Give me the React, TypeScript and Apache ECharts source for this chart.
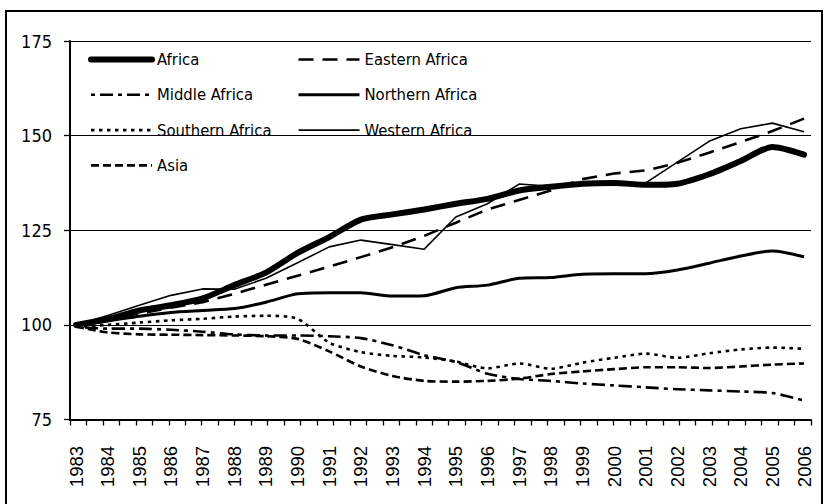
import React, { useEffect, useRef } from "react";
import * as echarts from "echarts";

const years = [1983, 1984, 1985, 1986, 1987, 1988, 1989, 1990, 1991, 1992, 1993, 1994, 1995, 1996, 1997, 1998, 1999, 2000, 2001, 2002, 2003, 2004, 2005, 2006];
const africa = [100, 101.5, 103.8, 105.2, 107, 110.5, 113.8, 119, 123.2, 127.8, 129.2, 130.5, 132, 133.3, 135.5, 136.5, 137.3, 137.5, 137, 137.3, 139.8, 143.3, 147, 145];
const eastern = [100, 101.5, 103, 104.5, 106, 108.2, 110.6, 113, 115.4, 117.9, 120.5, 123.5, 127, 130.5, 133, 135.5, 138.5, 140, 140.8, 142.8, 145.5, 148.3, 151.2, 154.5];
const middle = [99.5, 99, 99, 98.7, 98.2, 97.5, 97.2, 97.2, 97, 96.5, 94.6, 92, 90.2, 87.1, 85.7, 85.2, 84.5, 84, 83.5, 83, 82.7, 82.4, 82, 80];
const northern = [100, 101, 102.3, 103.3, 103.8, 104.3, 106, 108.2, 108.5, 108.5, 107.6, 107.7, 109.8, 110.5, 112.3, 112.5, 113.4, 113.5, 113.5, 114.5, 116.3, 118.2, 119.5, 118];
const southern = [99.5, 100, 100.6, 101.2, 101.6, 102.2, 102.4, 101.6, 95.3, 92.8, 91.8, 91.4, 90.3, 88.5, 89.8, 88.4, 90, 91.3, 92.4, 91.3, 92.5, 93.5, 94, 93.7];
const western = [100, 102.5, 105.2, 107.8, 109.5, 109.4, 112.3, 116.4, 120.6, 122.4, 121.2, 120, 128.5, 132, 137.2, 136.6, 137.5, 137.8, 137.5, 143, 148.5, 151.8, 153.3, 151];
const asia = [99.5, 98, 97.5, 97.4, 97.3, 97.2, 97, 96.3, 93, 89, 86.5, 85.2, 85, 85.2, 85.8, 87, 87.7, 88.3, 88.8, 88.8, 88.6, 89, 89.5, 89.8];

const yMin = 75;
const yMax = 175;
const yStep = 25;
const xMin = 1982.81;
const xMax = 2006.22;
const tickCount = 45;

const NARROW = "'Liberation Sans Narrow', 'DejaVu Sans Condensed', 'Noto Sans', sans-serif";

type Def = {
  name: string;
  values: number[];
  width: number;
  type: "solid" | number[];
  smooth: number | boolean;
  cap?: "butt" | "round";
};

const defs: Def[] = [
  { name: "Africa", values: africa, width: 6, type: "solid", smooth: 0.25, cap: "round" },
  { name: "Eastern Africa", values: eastern, width: 2.6, type: [15, 9], smooth: false },
  { name: "Middle Africa", values: middle, width: 2.6, type: [4, 5, 13, 5], smooth: 0.25 },
  { name: "Northern Africa", values: northern, width: 3, type: "solid", smooth: 0.25 },
  { name: "Southern Africa", values: southern, width: 2.6, type: [3.5, 4.5], smooth: 0.25 },
  { name: "Western Africa", values: western, width: 1.6, type: "solid", smooth: false },
  { name: "Asia", values: asia, width: 2.6, type: [8, 4], smooth: 0.25 },
];

const leftLegend = ["Africa", "Middle Africa", "Southern Africa", "Asia"];
const rightLegend = ["Eastern Africa", "Northern Africa", "Western Africa"];

export default function App() {
  const ref = useRef<HTMLDivElement>(null);
  useEffect(() => {
    if (!ref.current) return;
    const chart = echarts.init(ref.current, null, { renderer: "svg" });
    const tickValues: number[] = [];
    for (let k = 0; k <= tickCount; k++) tickValues.push(xMin + ((xMax - xMin) * k) / tickCount);

    const legendData = (names: string[]) =>
      names.map((n) => {
        const d = defs.find((x) => x.name === n)!;
        return {
          name: n,
          itemStyle: { opacity: 0 },
          lineStyle: { width: d.width, type: d.type, color: "#000", cap: d.cap || "butt" },
        };
      });

    const legendCommon = {
      orient: "vertical" as const,
      itemWidth: 61,
      itemHeight: 18,
      itemGap: 18.3,
      top: 51,
      padding: 0,
      textStyle: { fontFamily: NARROW, fontSize: 16.5, color: "#000" },
      selectedMode: false,
    };

    chart.setOption({
      animation: false,
      backgroundColor: "#fff",
      grid: [
        { left: 70, right: 17, top: 41, bottom: 504 - 419.5, containLabel: false },
        { left: 70, right: 17, top: 430, height: 1, containLabel: false },
      ],
      legend: [
        { ...legendCommon, left: 88, data: legendData(leftLegend) },
        { ...legendCommon, left: 297, data: legendData(rightLegend) },
      ],
      xAxis: [
        {
          type: "value",
          gridIndex: 0,
          min: xMin,
          max: xMax,
          axisLine: { show: true, onZero: false, lineStyle: { color: "#000", width: 2 } },
          axisTick: { show: true, length: 6, customValues: tickValues, lineStyle: { color: "#000", width: 1.3 } },
          axisLabel: { show: false },
          splitLine: { show: false },
        },
        {
          type: "value",
          gridIndex: 1,
          min: xMin,
          max: xMax,
          position: "bottom",
          axisLine: { show: false },
          axisTick: { show: false },
          axisLabel: {
            customValues: years,
            rotate: 90,
            margin: 5,
            align: "right",
            verticalAlign: "middle",
            fontFamily: "'Liberation Sans', Arial, sans-serif",
            fontSize: 18.5,
            color: "#000",
            hideOverlap: false,
            formatter: (v: number) => "{y|" + String(Math.round(v)) + "}",
            rich: {
              y: {
                fontFamily: "'Liberation Sans', Arial, sans-serif",
                fontSize: 18.5,
                color: "#000",
                padding: [0, 10, 0, 0],
              },
            },
          },
          splitLine: { show: false },
        },
      ],
      yAxis: [
        {
          type: "value",
          gridIndex: 0,
          min: yMin,
          max: yMax,
          interval: yStep,
          axisLine: { show: true, lineStyle: { color: "#000", width: 2 } },
          axisTick: { show: true, length: 6, lineStyle: { color: "#000", width: 1.3 } },
          axisLabel: { margin: 18, fontFamily: NARROW, fontSize: 18, color: "#000" },
          splitLine: { show: true, lineStyle: { color: "#000", width: 1.2 } },
        },
        {
          type: "value",
          gridIndex: 1,
          min: 0,
          max: 1,
          show: false,
        },
      ],
      graphic: [
        {
          type: "rect",
          silent: true,
          z: -1,
          shape: { x: 6, y: 11, width: 816, height: 520 },
          style: { fill: "none", stroke: "#000", lineWidth: 2 },
        },
      ],
      series: defs.map((d) => ({
        name: d.name,
        type: "line",
        xAxisIndex: 0,
        yAxisIndex: 0,
        data: years.map((y, i) => [y, d.values[i]]),
        symbol: "none",
        smooth: d.smooth,
        color: "#000",
        lineStyle: { color: "#000", width: d.width, type: d.type, cap: d.cap || "butt", join: "round" },
        emphasis: { disabled: true },
        z: d.name === "Africa" ? 3 : 2,
      })),
    });
    return () => chart.dispose();
  }, []);
  return (
    <div
      ref={ref}
      style={{ position: "fixed", left: 0, top: 0, width: 828, height: 504, background: "#fff" }}
    />
  );
}
